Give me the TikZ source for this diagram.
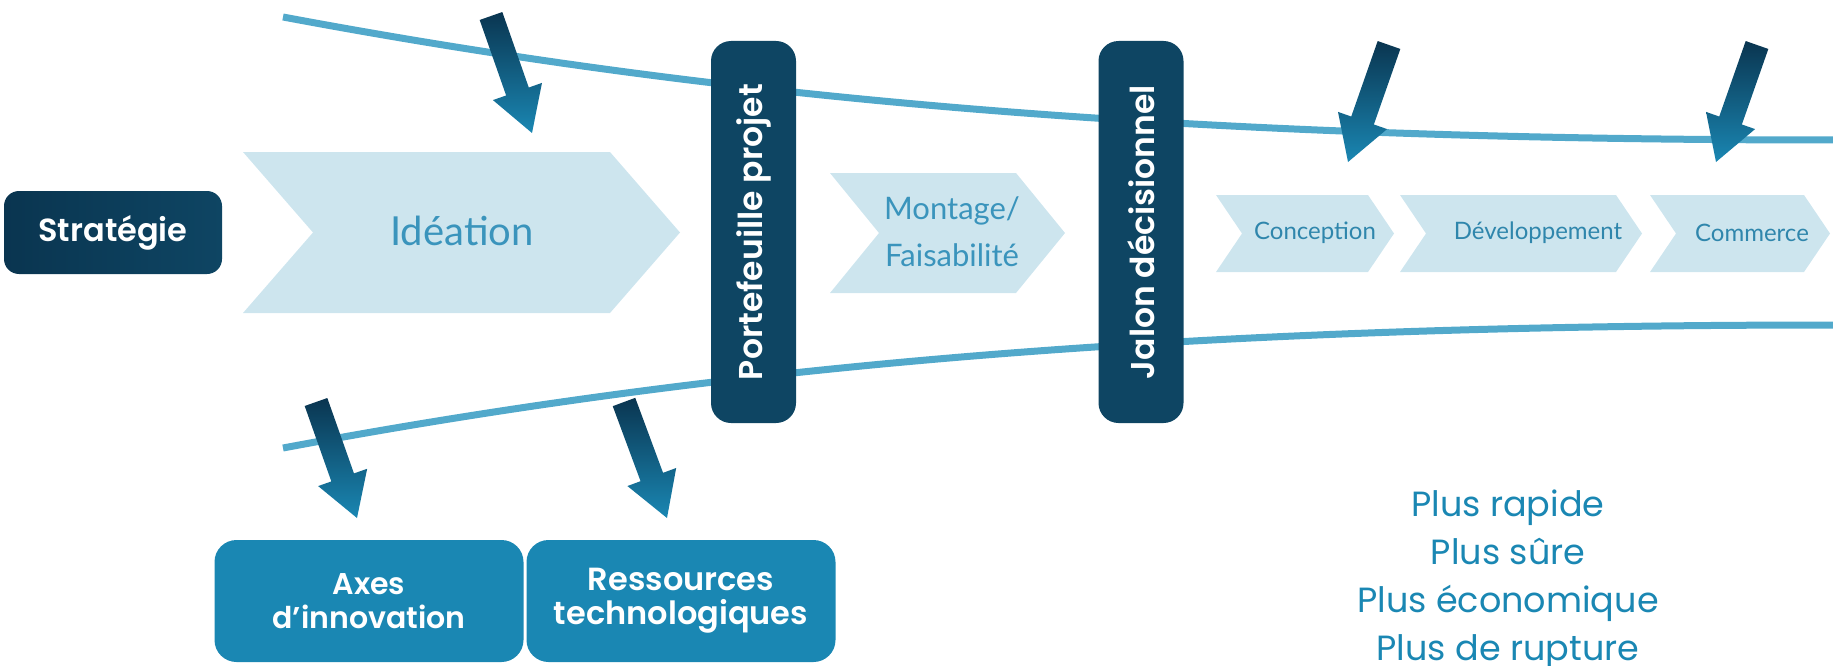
\documentclass[tikz,border=0pt]{standalone}
\usepackage{fontspec}
\setmainfont{Lato}
\newfontfamily\popfont{Poppins}[BoldFont={Poppins SemiBold}]
\usetikzlibrary{calc}

\definecolor{navy}{HTML}{0E4563}
\definecolor{darknavy}{HTML}{0A3550}
\definecolor{paleblue}{HTML}{CDE5EE}
\definecolor{lineblue}{HTML}{52A9CB}
\definecolor{midblue}{HTML}{1A87B3}
\definecolor{textblue}{HTML}{3A94BC}
\definecolor{darktext}{HTML}{2F86AC}

\begin{document}
\begin{tikzpicture}[x=1pt,y=-1pt,
  gate/.style={fill=navy,rounded corners=20pt,minimum width=382pt,minimum height=85pt,
    rotate=90,text=white,font=\popfont\bfseries\fontsize{33}{38}\selectfont},
  chev/.style={fill=paleblue},
  chevtext/.style={text=textblue,align=center},
  swoosh/.style={draw=lineblue,line width=7pt},
  inbox/.style={fill=midblue,rounded corners=22pt,minimum width=309pt,minimum height=122pt,
    text=white,align=center,font=\popfont\bfseries\fontsize{30}{34}\selectfont}]
\useasboundingbox (0,0) rectangle (1833,666);

% funnel
\draw[swoosh] (283,17) .. controls (700,95) and (1150,140) .. (1833,140);
\draw[swoosh] (283,448) .. controls (700,370) and (1150,325) .. (1833,325);

% phases
\fill[chev] (243,152) -- (610,152) -- (680,232.5) -- (610,313) -- (243,313) -- (313,232.5) -- cycle;
\fill[chev] (830,173) -- (1016,173) -- (1065,233) -- (1016,293) -- (830,293) -- (879,233) -- cycle;
\foreach \l/\r in {1216/1394,1400/1642,1650/1830}
  \fill[chev] (\l,195) -- (\r-26,195) -- (\r,233.5) -- (\r-26,272) -- (\l,272) -- (\l+26,233.5) -- cycle;

\node[chevtext,font=\fontsize{40}{48}\selectfont] (idea) at (462,231) {Idéation};
\node[chevtext,font=\fontsize{31}{47}\selectfont] (feas) at (952,232) {Montage/\\Faisabilité};
\node[chevtext,text=darktext,font=\fontsize{24}{28}\selectfont] (conc) at (1315,233) {Conception};
\node[chevtext,text=darktext,font=\fontsize{24}{28}\selectfont] (dev) at (1538,233) {Développement};
\node[chevtext,text=darktext,font=\fontsize{24}{28}\selectfont] (comm) at (1752,233) {Commerce};

\node[left color=darknavy,right color=navy,rounded corners=15pt,minimum width=218pt,
  minimum height=83pt,text=white,font=\popfont\bfseries\fontsize{32}{37}\selectfont]
  (strat) at (113,232.5) {Stratégie};

\node[gate] (port) at (753.5,232) {Portefeuille projet};
\node[gate] (jalon) at (1141,232) {Jalon décisionnel};

\node[inbox] (axes) at (369,601) {Axes\\d’innovation};
\node[inbox,font=\popfont\bfseries\fontsize{32}{34}\selectfont] (res) at (681,601) {Ressources\\technologiques};

% inputs
\coordinate (t1) at (491,16);   \coordinate (h1) at (532,133);
\coordinate (t2) at (1389,45);  \coordinate (h2) at (1348,162);
\coordinate (t3) at (1757,45);  \coordinate (h3) at (1716,162);
\coordinate (t4) at (316,402);  \coordinate (h4) at (357,518);
\coordinate (t5) at (624,402);  \coordinate (h5) at (667,518);
\foreach \a in {1,...,5}{
  \coordinate (b) at ($(t\a)!80pt!(h\a)$);
  \shade[top color=darknavy,bottom color=midblue]
    ($(t\a)!12pt!90:(h\a)$) -- ($(b)!12pt!90:(h\a)$) -- ($(b)!26pt!90:(h\a)$) -- (h\a)
    -- ($(b)!26pt!-90:(h\a)$) -- ($(b)!12pt!-90:(h\a)$) -- ($(t\a)!12pt!-90:(h\a)$) -- cycle;
}

\node[text=midblue,align=center,font=\popfont\fontsize{35}{48}\selectfont]
  (gain) at (1508,580) {Plus rapide\\Plus sûre\\Plus économique\\Plus de rupture};
\end{tikzpicture}
\end{document}
